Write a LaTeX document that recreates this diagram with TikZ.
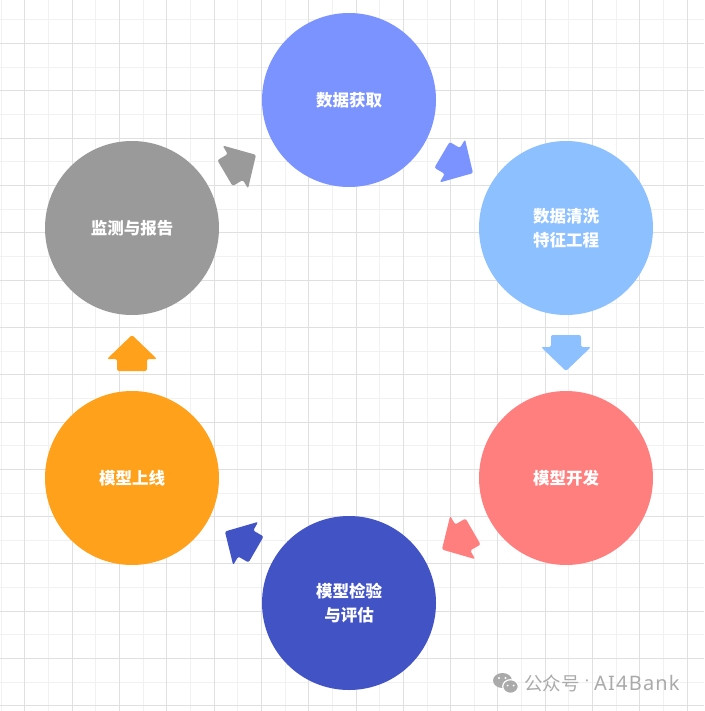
\documentclass[tikz,border=0pt]{standalone}
\usepackage{fontspec}
\newfontfamily\cjk{Noto Sans CJK SC}
\newfontfamily\wmlat[LetterSpace=6]{Noto Sans}
\newfontfamily\wmdotfont{Noto Sans}
\usetikzlibrary{calc}
\definecolor{c1col}{HTML}{7B93FF}
\definecolor{c2col}{HTML}{8DC0FF}
\definecolor{c3col}{HTML}{FF7F7E}
\definecolor{c4col}{HTML}{4254C5}
\definecolor{c5col}{HTML}{FFA11A}
\definecolor{c6col}{HTML}{9A9A9A}
\definecolor{gridlight}{HTML}{F1F1F1}
\definecolor{griddark}{HTML}{E0E0E0}
\definecolor{wmgray}{HTML}{AAAAAA}
\tikzset{
  circ/.style={circle, minimum size=174pt, inner sep=0pt, draw=none, text=white,
    font=\cjk\bfseries\fontsize{16.5}{24}\selectfont, align=center},
  lightline/.style={draw=gridlight, line width=1pt},
  darkline/.style={draw=griddark, line width=1pt},
  wmtext/.style={inner sep=0pt, text=wmgray},
  pics/blockarrow/.style={code={
    \fill[#1, rounded corners=2pt] (-18,-15) -- (-6,-15) -- (-6,-25) -- (18,0) -- (-6,25) -- (-6,15) -- (-18,15) -- cycle;
  }}
}
\begin{document}
\begin{tikzpicture}[x=1pt,y=-1pt]
\useasboundingbox (0,0) rectangle (704,711);
\fill[white] (0,0) rectangle (704,711);
% grid
\foreach \k in {0,2,...,28} {
  \draw[lightline] ({1.3+23.65*\k},0) -- ({1.3+23.65*\k},711);
  \draw[lightline] (0,{20+23.65*\k}) -- (704,{20+23.65*\k});
}
\foreach \k in {1,3,...,29} {
  \draw[darkline] ({1.3+23.65*\k},0) -- ({1.3+23.65*\k},711);
  \draw[darkline] (0,{20+23.65*\k}) -- (704,{20+23.65*\k});
}
% circles
\node[circ, fill=c1col] (c1) at (349,100) {数据获取};
\node[circ, fill=c2col] (c2) at (566,228) {数据清洗\\特征工程};
\node[circ, fill=c3col] (c3) at (566,478) {模型开发};
\node[circ, fill=c4col] (c4) at (349,603) {模型检验\\与评估};
\node[circ, fill=c5col] (c5) at (132,478) {模型上线};
\node[circ, fill=c6col] (c6) at (132,228) {监测与报告};
% arrows
\coordinate (m1) at ($(c1)!0.5!(c2)$);
\coordinate (m2) at ($(c2)!0.5!(c3)$);
\coordinate (m3) at ($(c3)!0.5!(c4)$);
\coordinate (m4) at ($(c4)!0.5!(c5)$);
\coordinate (m5) at ($(c5)!0.5!(c6)$);
\coordinate (m6) at ($(c6)!0.5!(c1)$);
\pic[rotate=-30.5] at (m1) {blockarrow=c1col};
\pic[rotate=-90] at (m2) {blockarrow=c2col};
\pic[rotate=-150] at (m3) {blockarrow=c3col};
\pic[rotate=150] at (m4) {blockarrow=c4col};
\pic[rotate=90] at (m5) {blockarrow=c5col};
\pic[rotate=30.5] at (m6) {blockarrow=c6col};
% watermark
\fill[wmgray] (502.5,680.5) ellipse [x radius=9.5, y radius=7.5];
\filldraw[fill=wmgray, draw=white, line width=1.2pt] (510.5,686.5) ellipse [x radius=7.8, y radius=6.8];
\fill[white] (499,678) circle [radius=1.2];
\fill[white] (505.5,678) circle [radius=1.2];
\fill[white] (507.5,685.5) circle [radius=1];
\fill[white] (513.5,685.5) circle [radius=1];
\node[wmtext, anchor=west, font=\cjk\fontsize{18.5}{20}\selectfont] (wm1) at (524,683) {公众号};
\node[wmtext, font=\wmdotfont\fontsize{16}{18}\selectfont] (wmdot) at (587,683) {·};
\node[wmtext, anchor=west, font=\wmlat\fontsize{20}{22}\selectfont] (wm2) at (594,683) {AI4Bank};
\end{tikzpicture}
\end{document}
